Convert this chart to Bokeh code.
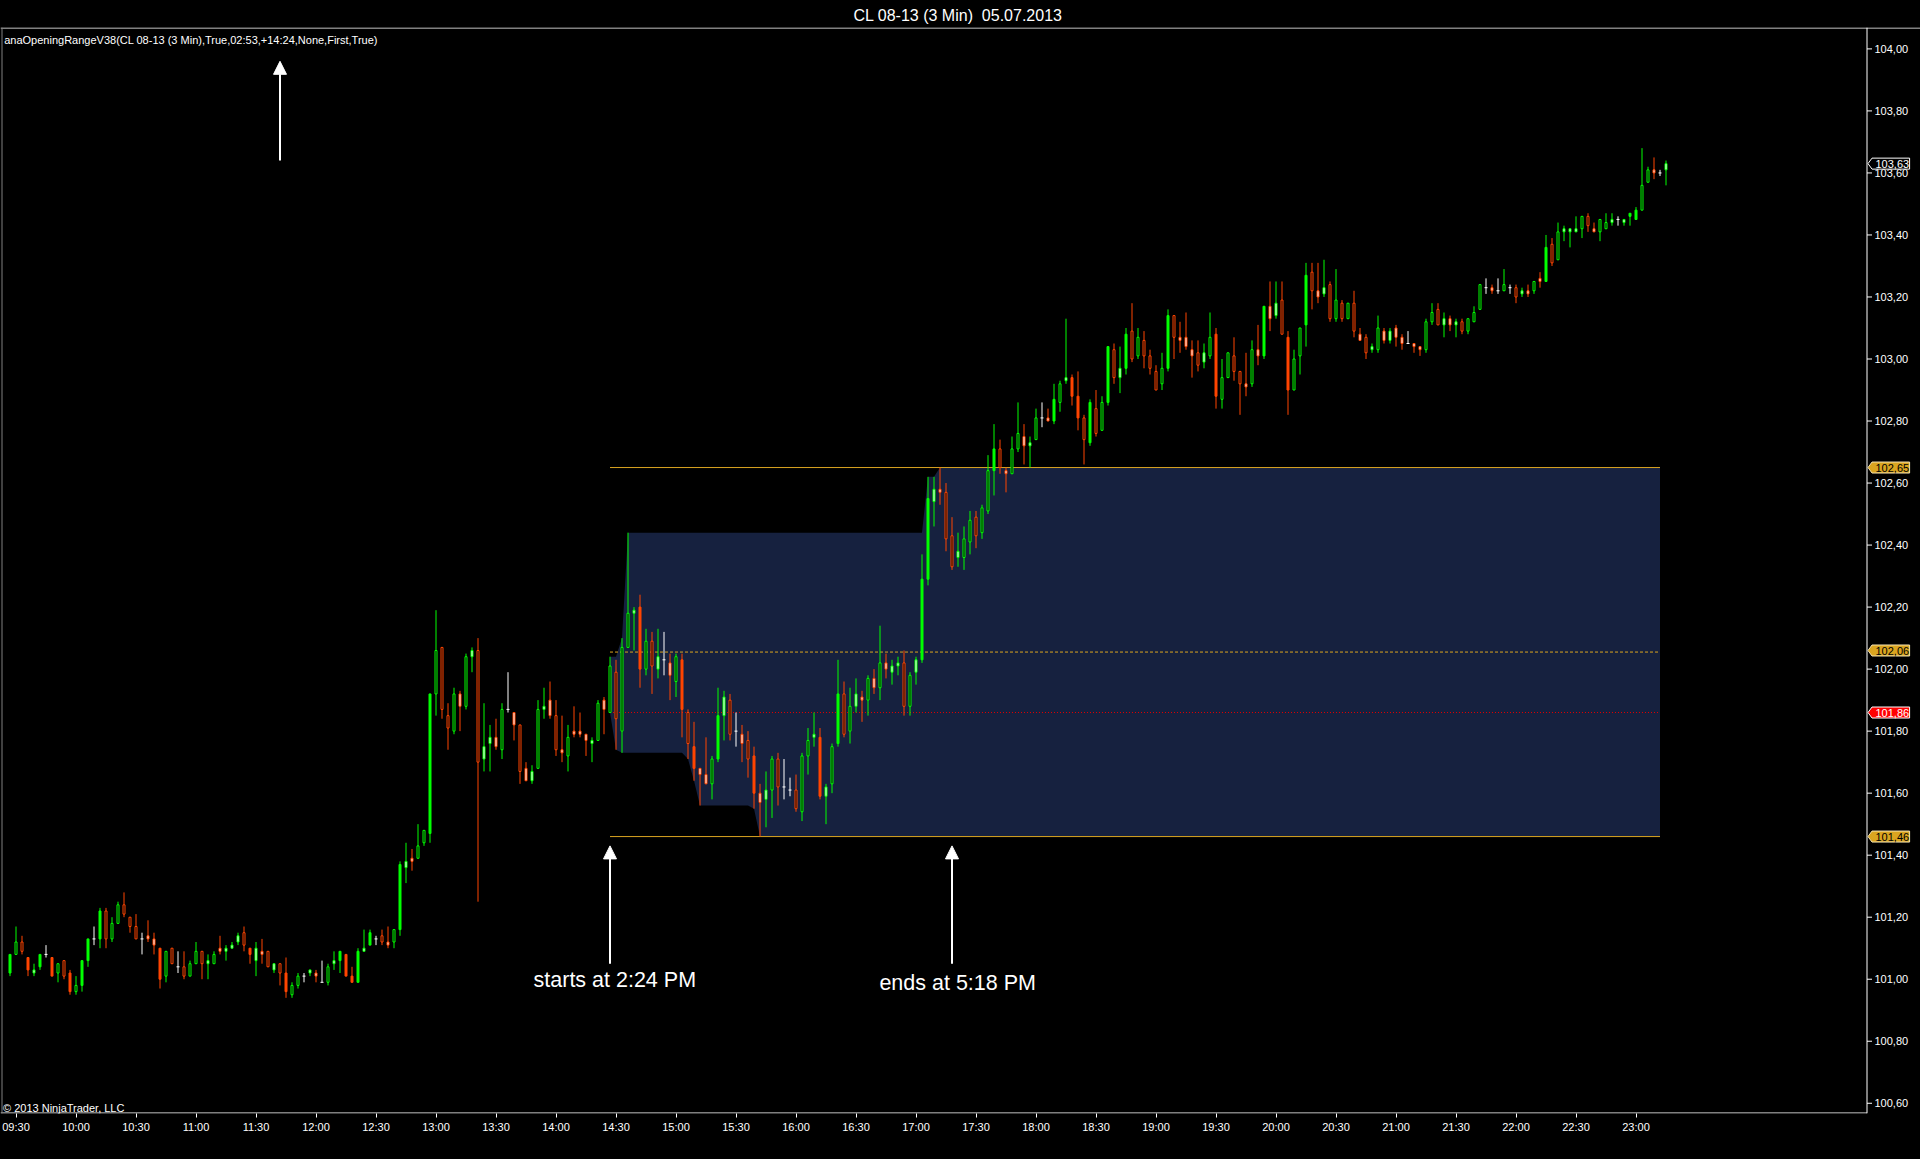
import numpy as np
from bokeh.plotting import figure
from bokeh.models import Range1d, FixedTicker, CustomJSTickFormatter, Label, Arrow, NormalHead
from bokeh.core.properties import value
from bokeh.embed import file_html
from bokeh.resources import INLINE

# ---------------- data (CL 08-13, 3-minute bars, first bar closes 09:27) ----------------
opens = [
    101.02, 101.08, 101.12, 101.07, 101.02, 101.04, 101.08, 101.07, 101.02, 101.06,
    101.02, 100.96, 100.98, 101.06, 101.13, 101.13, 101.22, 101.13, 101.18, 101.24,
    101.20, 101.17, 101.13, 101.14, 101.13, 101.10, 101.01, 101.10, 101.04, 101.04,
    101.01, 101.05, 101.09, 101.05, 101.05, 101.10, 101.09, 101.10, 101.12, 101.15,
    101.10, 101.06, 101.09, 101.09, 101.03, 101.05, 101.02, 100.95, 100.98, 101.01,
    101.02, 101.02, 100.99, 100.99, 101.05, 101.06, 101.08, 101.01, 100.99, 101.09,
    101.11, 101.13, 101.14, 101.12, 101.12, 101.16, 101.36, 101.39, 101.39, 101.44,
    101.47, 101.92, 102.07, 101.85, 101.80, 101.92, 101.88, 102.04, 102.06, 101.71,
    101.76, 101.78, 101.74, 101.87, 101.86, 101.82, 101.68, 101.64, 101.68, 101.87,
    101.90, 101.85, 101.74, 101.72, 101.80, 101.80, 101.79, 101.76, 101.77, 101.90,
    101.86, 101.99, 101.80, 102.07, 102.18, 102.20, 102.00, 102.09, 102.00, 102.03,
    102.02, 101.96, 102.03, 101.86, 101.75, 101.68, 101.66, 101.63, 101.71, 101.85,
    101.90, 101.80, 101.79, 101.77, 101.72, 101.60, 101.58, 101.61, 101.71, 101.62,
    101.61, 101.61, 101.54, 101.72, 101.78, 101.78, 101.59, 101.63, 101.76, 101.92,
    101.80, 101.88, 101.91, 101.90, 101.97, 101.94, 102.02, 101.99, 102.01, 102.02,
    101.88, 101.99, 102.03, 102.29, 102.54, 102.58, 102.57, 102.43, 102.36, 102.36,
    102.41, 102.49, 102.44, 102.51, 102.64, 102.71, 102.64, 102.63, 102.71, 102.75,
    102.72, 102.74, 102.81, 102.81, 102.80, 102.86, 102.93, 102.94, 102.88, 102.81,
    102.73, 102.84, 102.77, 102.86, 103.03, 102.94, 102.97, 103.09, 103.01, 103.06,
    103.01, 102.96, 102.92, 102.97, 103.14, 103.07, 103.07, 103.03, 103.02, 102.99,
    103.01, 103.08, 102.87, 102.94, 103.01, 102.96, 102.92, 102.92, 103.03, 103.01,
    103.17, 103.14, 103.19, 103.07, 102.90, 103.01, 103.11, 103.28, 103.22, 103.21,
    103.24, 103.13, 103.18, 103.13, 103.18, 103.08, 103.07, 103.03, 103.03, 103.09,
    103.06, 103.10, 103.07, 103.05, 103.05, 103.04, 103.03, 103.12, 103.16, 103.11,
    103.13, 103.11, 103.12, 103.09, 103.12, 103.16, 103.23, 103.23, 103.22, 103.22,
    103.23, 103.23, 103.21, 103.22, 103.22, 103.26, 103.25, 103.37, 103.32, 103.41,
    103.41, 103.41, 103.42, 103.46, 103.42, 103.41, 103.42, 103.44, 103.45, 103.44,
    103.46, 103.45, 103.48, 103.57, 103.61, 103.60, 103.61,
]
highs = [
    101.08, 101.17, 101.14, 101.07, 101.05, 101.08, 101.11, 101.07, 101.05, 101.06,
    101.03, 101.01, 101.06, 101.13, 101.17, 101.23, 101.23, 101.20, 101.25, 101.28,
    101.20, 101.21, 101.15, 101.19, 101.15, 101.10, 101.09, 101.10, 101.09, 101.09,
    101.06, 101.12, 101.09, 101.08, 101.09, 101.14, 101.11, 101.12, 101.15, 101.17,
    101.10, 101.12, 101.13, 101.09, 101.05, 101.05, 101.07, 100.99, 101.02, 101.02,
    101.03, 101.03, 101.06, 101.05, 101.09, 101.09, 101.08, 101.04, 101.10, 101.16,
    101.16, 101.14, 101.16, 101.17, 101.16, 101.38, 101.44, 101.42, 101.50, 101.48,
    101.92, 102.19, 102.07, 101.89, 101.94, 101.93, 102.05, 102.07, 102.10, 101.89,
    101.82, 101.84, 101.89, 101.99, 101.86, 101.82, 101.70, 101.69, 101.90, 101.94,
    101.96, 101.90, 101.85, 101.82, 101.88, 101.86, 101.79, 101.78, 101.90, 101.91,
    102.04, 102.03, 102.10, 102.44, 102.20, 102.24, 102.13, 102.12, 102.13, 102.12,
    102.05, 102.05, 102.05, 101.87, 101.83, 101.68, 101.78, 101.72, 101.94, 101.93,
    101.92, 101.86, 101.82, 101.80, 101.75, 101.63, 101.67, 101.72, 101.73, 101.71,
    101.65, 101.66, 101.73, 101.81, 101.86, 101.81, 101.63, 101.76, 102.03, 101.96,
    101.94, 101.97, 101.93, 101.98, 102.00, 102.14, 102.05, 102.03, 102.04, 102.06,
    101.99, 102.04, 102.37, 102.62, 102.62, 102.65, 102.60, 102.49, 102.44, 102.46,
    102.51, 102.51, 102.53, 102.69, 102.79, 102.74, 102.65, 102.75, 102.86, 102.79,
    102.75, 102.84, 102.86, 102.84, 102.92, 102.93, 103.13, 102.95, 102.96, 102.82,
    102.87, 102.90, 102.88, 103.04, 103.05, 103.04, 103.10, 103.18, 103.10, 103.09,
    103.03, 102.98, 103.02, 103.16, 103.14, 103.12, 103.15, 103.06, 103.06, 103.05,
    103.15, 103.10, 103.00, 103.02, 103.07, 102.96, 103.02, 103.06, 103.11, 103.17,
    103.25, 103.25, 103.25, 103.09, 103.03, 103.10, 103.31, 103.31, 103.31, 103.32,
    103.25, 103.29, 103.19, 103.18, 103.22, 103.10, 103.08, 103.05, 103.14, 103.10,
    103.10, 103.11, 103.08, 103.09, 103.05, 103.04, 103.13, 103.18, 103.18, 103.15,
    103.14, 103.13, 103.13, 103.13, 103.17, 103.24, 103.26, 103.24, 103.26, 103.29,
    103.24, 103.24, 103.23, 103.24, 103.25, 103.28, 103.40, 103.39, 103.44, 103.43,
    103.42, 103.46, 103.46, 103.47, 103.44, 103.45, 103.47, 103.47, 103.46, 103.45,
    103.47, 103.49, 103.68, 103.62, 103.65, 103.61, 103.64,
]
lows = [
    101.01, 101.08, 101.08, 101.01, 101.01, 101.03, 101.07, 101.01, 100.99, 101.00,
    100.95, 100.95, 100.96, 101.04, 101.11, 101.10, 101.10, 101.12, 101.18, 101.20,
    101.15, 101.13, 101.08, 101.12, 101.08, 100.97, 100.99, 101.05, 101.02, 101.00,
    101.01, 101.05, 101.00, 101.00, 101.05, 101.08, 101.06, 101.10, 101.11, 101.09,
    101.05, 101.01, 101.05, 101.04, 101.02, 100.98, 100.94, 100.94, 100.97, 100.99,
    101.01, 100.99, 100.99, 100.98, 101.03, 101.02, 101.01, 100.99, 100.99, 101.09,
    101.11, 101.11, 101.11, 101.10, 101.10, 101.14, 101.31, 101.35, 101.39, 101.43,
    101.44, 101.85, 101.84, 101.74, 101.79, 101.80, 101.87, 101.99, 101.25, 101.67,
    101.67, 101.74, 101.71, 101.86, 101.77, 101.63, 101.64, 101.63, 101.68, 101.84,
    101.84, 101.72, 101.70, 101.67, 101.78, 101.78, 101.72, 101.70, 101.77, 101.79,
    101.86, 101.74, 101.73, 102.07, 102.06, 101.94, 101.98, 101.92, 101.97, 101.98,
    101.90, 101.91, 101.78, 101.71, 101.64, 101.56, 101.63, 101.58, 101.70, 101.77,
    101.77, 101.75, 101.70, 101.65, 101.55, 101.46, 101.49, 101.52, 101.56, 101.58,
    101.59, 101.54, 101.51, 101.66, 101.75, 101.58, 101.50, 101.60, 101.75, 101.78,
    101.76, 101.86, 101.83, 101.85, 101.92, 101.90, 101.97, 101.95, 101.98, 101.85,
    101.85, 101.95, 102.02, 102.27, 102.46, 102.53, 102.38, 102.32, 102.33, 102.32,
    102.37, 102.39, 102.42, 102.50, 102.56, 102.63, 102.57, 102.63, 102.70, 102.66,
    102.65, 102.74, 102.78, 102.80, 102.79, 102.83, 102.92, 102.85, 102.77, 102.66,
    102.72, 102.75, 102.77, 102.85, 102.92, 102.89, 102.95, 102.99, 103.00, 102.97,
    102.95, 102.90, 102.90, 102.96, 103.00, 103.02, 103.03, 102.94, 102.96, 102.97,
    103.00, 102.84, 102.84, 102.94, 102.93, 102.82, 102.88, 102.91, 102.98, 103.00,
    103.09, 103.13, 103.08, 102.82, 102.90, 102.95, 103.04, 103.16, 103.18, 103.20,
    103.12, 103.12, 103.12, 103.13, 103.07, 103.06, 103.00, 103.02, 103.02, 103.05,
    103.05, 103.04, 103.03, 103.05, 103.02, 103.01, 103.02, 103.11, 103.11, 103.07,
    103.09, 103.07, 103.08, 103.08, 103.12, 103.16, 103.21, 103.21, 103.21, 103.22,
    103.21, 103.18, 103.20, 103.20, 103.21, 103.23, 103.25, 103.30, 103.32, 103.38,
    103.36, 103.41, 103.39, 103.41, 103.41, 103.38, 103.42, 103.43, 103.43, 103.43,
    103.43, 103.45, 103.48, 103.57, 103.58, 103.59, 103.56,
]
closes = [
    101.08, 101.12, 101.09, 101.03, 101.03, 101.08, 101.08, 101.01, 101.05, 101.01,
    100.96, 100.98, 101.06, 101.13, 101.13, 101.22, 101.13, 101.18, 101.24, 101.21,
    101.17, 101.13, 101.13, 101.13, 101.11, 101.00, 101.09, 101.05, 101.04, 101.01,
    101.05, 101.09, 101.05, 101.06, 101.08, 101.09, 101.10, 101.11, 101.14, 101.11,
    101.08, 101.10, 101.08, 101.04, 101.05, 101.02, 100.96, 100.98, 101.01, 101.01,
    101.03, 101.01, 100.99, 101.04, 101.06, 101.09, 101.01, 100.99, 101.09, 101.10,
    101.15, 101.13, 101.12, 101.11, 101.16, 101.37, 101.38, 101.38, 101.43, 101.48,
    101.92, 102.06, 101.87, 101.81, 101.92, 101.88, 102.04, 102.06, 101.70, 101.75,
    101.78, 101.75, 101.87, 101.87, 101.82, 101.67, 101.64, 101.67, 101.87, 101.88,
    101.85, 101.74, 101.73, 101.78, 101.79, 101.79, 101.77, 101.77, 101.89, 101.87,
    102.01, 101.84, 102.07, 102.18, 102.19, 102.00, 102.09, 102.01, 102.04, 102.03,
    101.98, 102.04, 101.87, 101.76, 101.68, 101.66, 101.63, 101.71, 101.85, 101.91,
    101.79, 101.80, 101.76, 101.71, 101.60, 101.57, 101.61, 101.71, 101.62, 101.62,
    101.61, 101.55, 101.72, 101.77, 101.79, 101.59, 101.62, 101.75, 101.92, 101.79,
    101.88, 101.92, 101.90, 101.97, 101.94, 102.02, 102.00, 102.01, 102.02, 101.88,
    101.98, 102.03, 102.29, 102.55, 102.58, 102.57, 102.42, 102.33, 102.38, 102.42,
    102.48, 102.43, 102.52, 102.64, 102.71, 102.65, 102.63, 102.71, 102.76, 102.72,
    102.73, 102.81, 102.81, 102.80, 102.87, 102.92, 102.94, 102.88, 102.81, 102.74,
    102.86, 102.76, 102.86, 103.04, 102.94, 102.97, 103.08, 103.00, 103.07, 103.01,
    102.97, 102.90, 102.97, 103.14, 103.07, 103.06, 103.04, 103.01, 102.98, 103.02,
    103.07, 102.88, 102.94, 103.02, 102.96, 102.92, 102.91, 103.03, 103.01, 103.17,
    103.13, 103.18, 103.08, 102.90, 103.00, 103.10, 103.27, 103.22, 103.20, 103.23,
    103.13, 103.19, 103.13, 103.18, 103.09, 103.06, 103.02, 103.04, 103.10, 103.06,
    103.09, 103.07, 103.05, 103.05, 103.04, 103.03, 103.12, 103.15, 103.11, 103.13,
    103.11, 103.12, 103.09, 103.13, 103.15, 103.24, 103.23, 103.22, 103.22, 103.24,
    103.23, 103.20, 103.22, 103.21, 103.25, 103.25, 103.36, 103.31, 103.41, 103.42,
    103.42, 103.42, 103.46, 103.43, 103.41, 103.45, 103.44, 103.45, 103.45, 103.45,
    103.47, 103.48, 103.56, 103.61, 103.60, 103.60, 103.63,
]
# body style per bar: S = solid, H = hollow (dark inside), W = hollow (light inside), D = doji
body_styles = [
    "SHHSWSDSHH", "SHSSDSHHHH", "HHDWWSHHDH", "HHHWHWWWWH", "SWWHWHSHHD",
    "WWDHWSSSSW", "SDHWHSWWHH", "SHHHHWHWHW", "WWHDWHWWHW", "WHWHWWWWHW",
    "HHHHWSHHWD", "WHSHSWWHSW", "HDWHSWWHHD", "DHHHWSWHSH", "HWWHWHWWWH",
    "HWSSWWHHWH", "HHHHSHWHHW", "WHDWSHWSSH", "SHHSHWSHHH", "HHHSHWWWHW",
    "HSHHHHWHWS", "WWHSHHSHWW", "HHHHHWHWHW", "WWWDWWHHHW", "WWHHHHDWDH",
    "DHWWHWSHHW", "WWHHWHHWDW", "SSHHWDW",
]
time_labels = ["09:30", "10:00", "10:30", "11:00", "11:30", "12:00", "12:30", "13:00",
               "13:30", "14:00", "14:30", "15:00", "15:30", "16:00", "16:30", "17:00",
               "17:30", "18:00", "18:30", "19:00", "19:30", "20:00", "20:30", "21:00",
               "21:30", "22:00", "22:30", "23:00"]
price_ticks = [100.6, 100.8, 101.0, 101.2, 101.4, 101.6, 101.8, 102.0, 102.2,
               102.4, 102.6, 102.8, 103.0, 103.2, 103.4, 103.6, 103.8, 104.0]
or_start_bar = 100   # bar closing 14:27 (range starts 14:24)
or_end_bar = 157     # bar closing 17:18
last_plot_bar = 275

title_text = "CL 08-13 (3 Min)\u00a0 05.07.2013"
indicator_text = "anaOpeningRangeV38(CL 08-13 (3 Min),True,02:53,+14:24,None,First,True)"
copyright_text = "\u00a9 2013 NinjaTrader, LLC"

# ---------------- derived ----------------
O = np.array(opens); Hi = np.array(highs); Lo = np.array(lows); C = np.array(closes)
styles = list("".join(body_styles))
n = len(O)
idx = np.arange(n)

GREEN, RED, WHITE, BLACK = "#00ff00", "#ff4500", "#ffffff", "#000000"
GOLD = "#daa520"
BAND = "#16213f"
FONT = "Liberation Sans"

col = np.where(C > O, GREEN, np.where(C < O, RED, WHITE))
fill = [col[i] if s == "S" else (BLACK if s == "H" else WHITE) for i, s in enumerate(styles)]
is_doji = np.array([s == "D" for s in styles])

# ---------------- figure geometry (page has no margin: canvas == screen) ----------------
BAR_PX = 6
W, Hgt = 1920, 1159
BT, BB = 27, 46
FIRST_BAR_PX = 9.5
AXIS_PX = 1866.5
frame_h = Hgt - BT - BB
x_start = -FIRST_BAR_PX / BAR_PX
x_end = x_start + W / BAR_PX
y_start, y_end = 100.567, 104.069
ppu = frame_h / (y_end - y_start)
px = 1 / BAR_PX            # one pixel in x data units
py = 1 / ppu               # one pixel in y data units
axis_x = x_start + AXIS_PX * px

p = figure(width=W, height=Hgt, x_range=Range1d(x_start, x_end),
           y_range=Range1d(y_start, y_end), toolbar_location=None, output_backend="svg",
           min_border_left=0, min_border_right=0, min_border_top=BT, min_border_bottom=BB,
           background_fill_color=BLACK, border_fill_color=BLACK, outline_line_color=None)
p.yaxis.visible = False
p.grid.visible = False

p.title.text = title_text
p.title.align = "left"
p.title.offset = 853
p.title.standoff = 7
p.title.text_color = WHITE
p.title.text_font = FONT
p.title.text_font_size = "16px"
p.title.text_font_style = "normal"

# ---------------- opening range band ----------------
seg = slice(or_start_bar, or_end_bar + 1)
run_hi = np.maximum.accumulate(Hi[seg])
run_lo = np.minimum.accumulate(Lo[seg])
or_hi, or_lo = run_hi[-1], run_lo[-1]
extra = last_plot_bar - or_end_bar
band_x = idx[or_start_bar:last_plot_bar + 1]
band_hi = np.concatenate([run_hi, np.full(extra, or_hi)])
band_lo = np.concatenate([run_lo, np.full(extra, or_lo)])
p.varea(x=band_x, y1=band_lo, y2=band_hi, fill_color=BAND)

or_mid = (or_hi + or_lo) / 2
first_open = O[or_start_bar]
lx = [or_start_bar, last_plot_bar]
p.line(lx, [or_hi, or_hi], line_color=GOLD, line_width=1)
p.line(lx, [or_lo, or_lo], line_color=GOLD, line_width=1)
p.line(lx, [or_mid, or_mid], line_color=GOLD, line_width=1, line_dash="3 2")
p.line(lx, [first_open, first_open], line_color="#e00000", line_width=1, line_dash="1 2")

# ---------------- candles ----------------
p.segment(x0=idx, y0=Lo, x1=idx, y1=Hi, line_color=list(col), line_width=1)
nd = ~is_doji
p.vbar(x=idx[nd], width=2 * px, top=np.maximum(O, C)[nd], bottom=np.minimum(O, C)[nd],
       fill_color=[f for f, d in zip(fill, is_doji) if not d],
       line_color=list(col[nd]), line_width=1)
p.segment(x0=idx[is_doji] - 0.25, y0=C[is_doji], x1=idx[is_doji] + 0.25, y1=C[is_doji],
          line_color=WHITE, line_width=1)

# ---------------- frame lines ----------------
p.line([x_start, x_end], [y_end - 0.5 * py] * 2, line_color=WHITE, line_width=1)
p.line([x_start, axis_x], [y_start + 0.5 * py] * 2, line_color=WHITE, line_width=1)
p.line([x_start + 1.5 * px] * 2, [y_start, y_end], line_color="#808080", line_width=1)
p.line([axis_x, axis_x], [y_start, y_end], line_color=WHITE, line_width=1)

# ---------------- time axis ----------------
xa = p.xaxis[0]
xa.ticker = FixedTicker(ticks=[1 + 10 * k for k in range(len(time_labels))])
xa.formatter = CustomJSTickFormatter(args=dict(labels=time_labels),
                                     code="return labels[Math.round((tick - 1) / 10)] || '';")
xa.axis_line_color = None
xa.major_tick_line_color = WHITE
xa.minor_tick_line_color = None
xa.major_tick_in = 0
xa.major_tick_out = 4
xa.major_label_text_color = WHITE
xa.major_label_text_font = FONT
xa.major_label_text_font_size = "11px"
xa.major_label_standoff = 3

# ---------------- price scale (right) ----------------
pt = np.array(price_ticks)
p.segment(x0=[axis_x] * len(pt), y0=pt, x1=[axis_x + 5 * px] * len(pt), y1=pt,
          line_color=WHITE, line_width=1)
p.text(x=[axis_x + 7.5 * px] * len(pt), y=pt, text=[f"{v:.2f}".replace(".", ",") for v in pt],
       text_color=WHITE, text_font=value(FONT), text_font_size="11px",
       text_baseline="middle", text_align="left")

# price markers
flag_prices = [C[-1], or_hi, round(or_mid, 2), first_open, or_lo]
flag_bg = [BLACK, GOLD, GOLD, "#ff0000", GOLD]
flag_fg = [WHITE, BLACK, BLACK, WHITE, BLACK]
flag_border = [WHITE, "#f3e2b0", "#f3e2b0", WHITE, "#f3e2b0"]
tip_x = axis_x + 1 * px
bl_x = axis_x + 5 * px
br_x = axis_x + 42.6 * px
hh = 5.5 * py
p.patches(xs=[[tip_x, bl_x, br_x, br_x, bl_x] for _ in flag_prices],
          ys=[[v, v + hh, v + hh, v - hh, v - hh] for v in flag_prices],
          fill_color=flag_bg, line_color=flag_border, line_width=1)
p.text(x=[bl_x + 3.5 * px] * len(flag_prices), y=flag_prices,
       text=[f"{v:.2f}".replace(".", ",") for v in flag_prices],
       text_color=flag_fg, text_font=value(FONT), text_font_size="11px",
       text_baseline="middle", text_align="left")

# ---------------- texts and arrows ----------------
p.add_layout(Label(x=x_start + 3.7 * px, y=104.03, text=indicator_text, text_baseline="middle",
                   text_font=FONT, text_font_size="11px", text_color=WHITE))
p.add_layout(Label(x=x_start + 2.5 * px, y=100.586, text=copyright_text, text_baseline="middle",
                   text_font=FONT, text_font_size="11px", text_color=WHITE))

head = dict(size=13, fill_color=WHITE, line_color=WHITE)
p.add_layout(Arrow(end=NormalHead(**head), x_start=45, y_start=103.64, x_end=45, y_end=103.96,
                   line_color=WHITE, line_width=2))
p.add_layout(Arrow(end=NormalHead(**head), x_start=or_start_bar, y_start=101.05,
                   x_end=or_start_bar, y_end=101.43, line_color=WHITE, line_width=2))
p.add_layout(Arrow(end=NormalHead(**head), x_start=or_end_bar, y_start=101.05,
                   x_end=or_end_bar, y_end=101.43, line_color=WHITE, line_width=2))
p.add_layout(Label(x=or_start_bar + 0.8, y=100.997, text="starts at 2:24 PM", text_align="center",
                   text_baseline="middle", text_font=FONT, text_font_size="21.5px",
                   text_color=WHITE))
p.add_layout(Label(x=or_end_bar + 0.95, y=100.989, text="ends at 5:18 PM", text_align="center",
                   text_baseline="middle", text_font=FONT, text_font_size="21.5px",
                   text_color=WHITE))

html = file_html(p, INLINE, title="CL 08-13 (3 Min)")
html = html.replace("<head>", "<head><style>html,body{background:#000;}</style>", 1)
open("out.html", "w").write(html)
